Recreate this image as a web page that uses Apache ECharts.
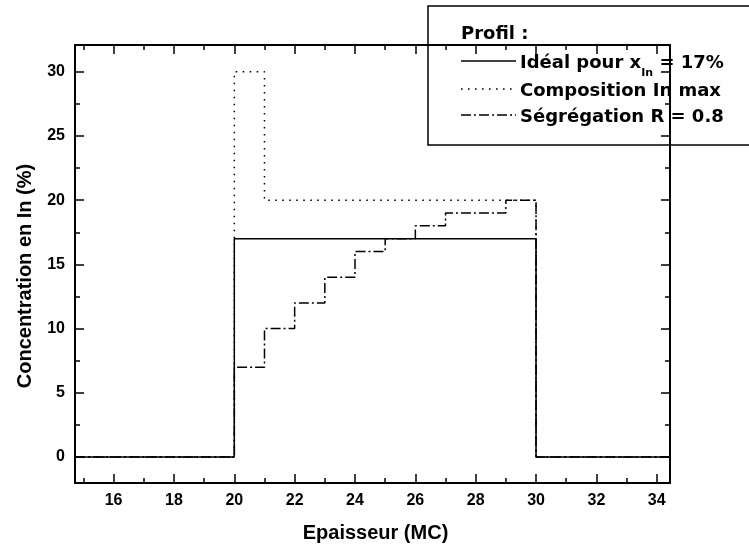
<!DOCTYPE html>
<html>
<head>
<meta charset="utf-8">
<script src="https://cdn.jsdelivr.net/npm/echarts@6/dist/echarts.min.js"></script>
<style>
html,body{margin:0;padding:0;background:#fff;}
#chart{width:749px;height:548px;}
</style>
</head>
<body>
<div id="chart"></div>
<script>
// ---- data ----
const xMin = 14.72, xMax = 34.44;
const yMin = -2.02, yMax = 32.08;
const layerStarts = [20, 21, 22, 23, 24, 25, 26, 27, 28, 29];
const layerEnd = 30;
const baseValue = 0;
const idealValues = [17, 17, 17, 17, 17, 17, 17, 17, 17, 17];
const compositionValues = [30, 20, 20, 20, 20, 20, 20, 20, 20, 20];
const segregationValues = [7, 10, 12, 14, 16, 17, 18, 19, 19, 20];
const seriesNames = ['Idéal pour x', 'Composition In max', 'Ségrégation R = 0.8'];
const xTicks = [16, 18, 20, 22, 24, 26, 28, 30, 32, 34];
const xMinorTicks = [15, 17, 19, 21, 23, 25, 27, 29, 31, 33];
const yTicks = [0, 5, 10, 15, 20, 25, 30];
const yMinorTicks = [2.5, 7.5, 12.5, 17.5, 22.5, 27.5];
const xTitle = 'Epaisseur (MC)';
const yTitle = 'Concentration en In (%)';
const legendTitle = 'Profil :';

function stepData(values) {
  const pts = [[xMin, baseValue]];
  layerStarts.forEach((x, i) => pts.push([x, values[i]]));
  pts.push([layerEnd, baseValue]);
  pts.push([xMax, baseValue]);
  return pts;
}

const solidDash = 'solid';
const dottedDash = [1.6, 5.4];
const dashDot = [10, 3, 2, 3];
const lw = 1.5;
const fontMain = 'Liberation Sans, Arial, sans-serif';
const fontLegend = 'DejaVu Sans, sans-serif';

const chart = echarts.init(document.getElementById('chart'), null, {renderer: 'canvas'});

function mkX(pos, major, labels) {
  return {
    type: 'value', position: pos, min: xMin, max: xMax,
    splitLine: {show: false},
    axisLine: {show: major, onZero: false, lineStyle: {color: '#000', width: 2}},
    axisTick: {show: true, inside: true, length: major ? 9 : 5,
      customValues: major ? xTicks : xMinorTicks, lineStyle: {color: '#000', width: 1.5}},
    axisLabel: labels ? {show: true, customValues: xTicks, margin: 10, color: '#000',
      fontSize: 16, fontWeight: 'bold', fontFamily: fontMain} : {show: false},
    name: labels ? xTitle : '', nameLocation: 'middle', nameGap: 40,
    nameTextStyle: {fontSize: 20, fontWeight: 'bold', color: '#000', fontFamily: fontMain, padding: [0, 0, 0, 6]}
  };
}
function mkY(pos, major, labels) {
  return {
    type: 'value', position: pos, min: yMin, max: yMax,
    splitLine: {show: false},
    axisLine: {show: major, onZero: false, lineStyle: {color: '#000', width: 2}},
    axisTick: {show: true, inside: true, length: major ? 9 : 5,
      customValues: major ? yTicks : yMinorTicks, lineStyle: {color: '#000', width: 1.5}},
    axisLabel: labels ? {show: true, customValues: yTicks, margin: 10, color: '#000',
      fontSize: 16, fontWeight: 'bold', fontFamily: fontMain} : {show: false},
    name: labels ? yTitle : '', nameLocation: 'middle', nameGap: 40,
    nameTextStyle: {fontSize: 20, fontWeight: 'bold', color: '#000', fontFamily: fontMain, padding: [0, 24, 0, 0]}
  };
}

const legendX = 461, legendLineEnd = 516, legendTextX = 520;
const legendRows = [61, 89, 115];

const option = {
  animation: false,
  backgroundColor: '#fff',
  grid: {left: 75, right: 79, top: 45, bottom: 65, containLabel: false, outerBoundsMode: 'none'},
  xAxis: [mkX('bottom', true, true), mkX('top', true, false), mkX('bottom', false, false), mkX('top', false, false)],
  yAxis: [mkY('left', true, true), mkY('right', true, false), mkY('left', false, false), mkY('right', false, false)],
  series: [
    {name: seriesNames[1], type: 'line', step: 'end', data: stepData(compositionValues), symbol: 'none',
      lineStyle: {color: '#000', width: lw, type: dottedDash}, z: 2},
    {name: seriesNames[2], type: 'line', step: 'end', data: stepData(segregationValues), symbol: 'none',
      lineStyle: {color: '#000', width: lw, type: dashDot}, z: 3},
    {name: seriesNames[0], type: 'line', step: 'end', data: stepData(idealValues), symbol: 'none',
      lineStyle: {color: '#000', width: lw, type: solidDash}, z: 4}
  ],
  graphic: [
    {type: 'group', z: 100, children: [
      {type: 'rect', shape: {x: 428, y: 6, width: 340, height: 139},
        style: {fill: '#fff', stroke: '#000', lineWidth: 1.5}},
      {type: 'text', style: {x: legendX, y: 34, text: legendTitle, fill: '#000',
        fontSize: 18, fontWeight: 'bold', fontFamily: fontLegend, verticalAlign: 'middle'}},
      {type: 'line', shape: {x1: legendX, y1: legendRows[0], x2: legendLineEnd, y2: legendRows[0]},
        style: {stroke: '#000', lineWidth: lw}},
      {type: 'text', style: {x: legendTextX, y: legendRows[0] + 2,
        text: '{a|' + seriesNames[0] + '}{s|In}{a| = 17%}', verticalAlign: 'middle', fill: '#000',
        rich: {
          a: {fontSize: 18, fontWeight: 'bold', fontFamily: fontLegend, lineHeight: 22, fill: '#000'},
          s: {fontSize: 11, fontWeight: 'bold', fontFamily: fontLegend, lineHeight: 11, verticalAlign: 'bottom', padding: [0, 0, -4.5, 0], fill: '#000'}
        }}},
      {type: 'line', shape: {x1: legendX, y1: legendRows[1], x2: legendLineEnd, y2: legendRows[1]},
        style: {stroke: '#000', lineWidth: lw, lineDash: dottedDash}},
      {type: 'text', style: {x: legendTextX, y: legendRows[1] + 2, text: seriesNames[1], fill: '#000',
        fontSize: 18, fontWeight: 'bold', fontFamily: fontLegend, verticalAlign: 'middle'}},
      {type: 'line', shape: {x1: legendX, y1: legendRows[2], x2: legendLineEnd, y2: legendRows[2]},
        style: {stroke: '#000', lineWidth: lw, lineDash: dashDot}},
      {type: 'text', style: {x: legendTextX, y: legendRows[2] + 2, text: seriesNames[2], fill: '#000',
        fontSize: 18, fontWeight: 'bold', fontFamily: fontLegend, verticalAlign: 'middle'}}
    ]}
  ]
};
chart.setOption(option);
</script>
</body>
</html>
